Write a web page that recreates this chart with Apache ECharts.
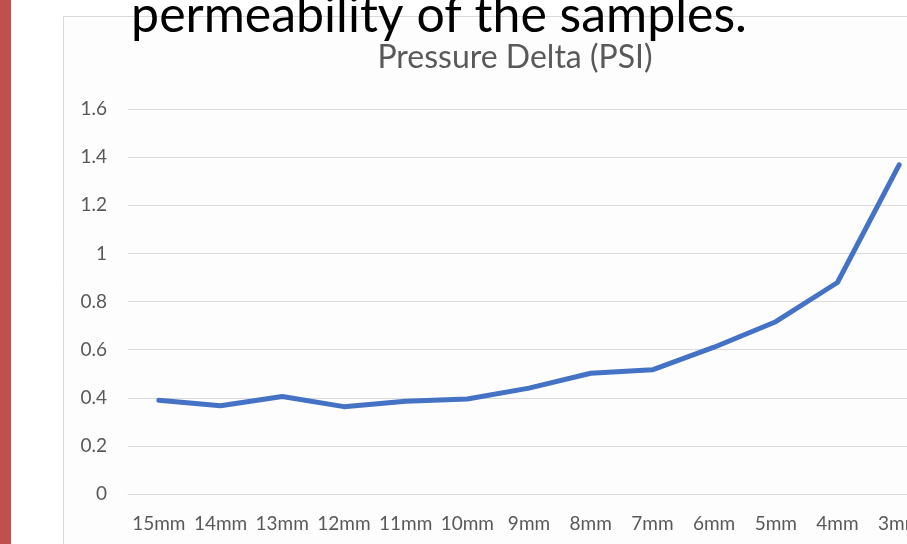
<!DOCTYPE html>
<html>
<head>
<meta charset="utf-8">
<script src="https://cdn.jsdelivr.net/npm/echarts@6/dist/echarts.min.js"></script>
<style>
html,body{margin:0;padding:0;background:#fff;overflow:hidden;width:907px;height:544px;}
#c{width:960px;height:544px;}
</style>
</head>
<body>
<div id="c"></div>
<script>
const categories = ['15mm','14mm','13mm','12mm','11mm','10mm','9mm','8mm','7mm','6mm','5mm','4mm','3mm'];
const pressureDelta = [0.39, 0.367, 0.405, 0.363, 0.385, 0.395, 0.44, 0.502, 0.516, 0.61, 0.716, 0.879, 1.368];
const yTicks = [0, 0.2, 0.4, 0.6, 0.8, 1, 1.2, 1.4, 1.6];
const chartTitle = 'Pressure Delta (PSI)';
const slideTitle = 'permeability of the samples.';

const chart = echarts.init(document.getElementById('c'), null, {renderer:'canvas'});
chart.setOption({
  animation: false,
  backgroundColor: '#ffffff',
  textStyle: {fontFamily: 'Lato'},
  graphic: [
    {type:'rect', shape:{x:0,y:0,width:11,height:544}, style:{fill:'#c0504d'}, z:0},
    {type:'rect', shape:{x:63.5,y:16.5,width:950,height:600}, style:{fill:'#fdfdfd', stroke:'#d9d9d9', lineWidth:1}, z:-1, silent:true}
  ],
  title: [
    {text: slideTitle, left: 434, top: -14, textAlign: 'center',
     textStyle:{fontFamily:'Lato', fontSize:50, fontWeight:'normal', color:'#000000'}, z:10},
    {text: chartTitle, left: 510, top: 37, textAlign: 'center',
     textStyle:{fontFamily:'Lato', fontSize:32, fontWeight:'normal', color:'#595959'}}
  ],
  grid: {left: 128, top: 109, width: 802, height: 385},
  xAxis: {
    type:'category', data: categories, boundaryGap: true,
    axisLine:{show:true, lineStyle:{color:'#d9d9d9', width:1}},
    axisTick:{show:false},
    axisLabel:{color:'#595959', fontSize:19, margin:20, fontFamily:'Lato', interval:0}
  },
  yAxis: {
    type:'value', min: yTicks[0], max: yTicks[yTicks.length-1], interval: 0.2,
    axisLine:{show:false}, axisTick:{show:false},
    splitLine:{lineStyle:{color:'#d9d9d9', width:1}},
    axisLabel:{color:'#595959', fontSize:19, margin:21, fontFamily:'Lato',
      formatter: v => String(Math.round(v*10)/10)}
  },
  series: [{
    type:'line', data: pressureDelta, symbol:'none',
    lineStyle:{color:'#4472c4', width:5, cap:'round', join:'round'},
    itemStyle:{color:'#4472c4'}
  }]
});
</script>
</body>
</html>
